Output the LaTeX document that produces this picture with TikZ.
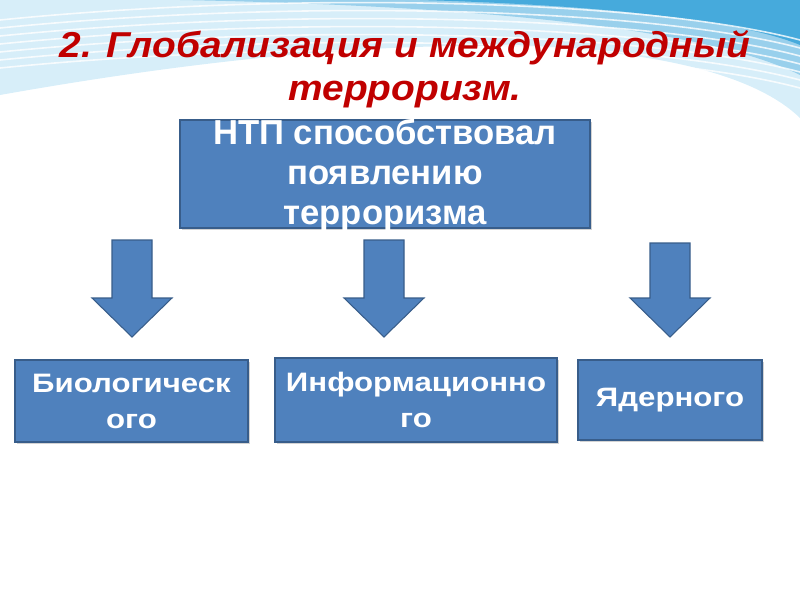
\documentclass[tikz,border=0pt]{standalone}
\usepackage{fontspec}
\setmainfont{Liberation Sans}
\newfontfamily\titlefont[FakeStretch=1.08]{Liberation Sans}
\newfontfamily\widefont[FakeStretch=1.17]{Liberation Sans}
\usetikzlibrary{shadows}
\definecolor{boxblue}{RGB}{79,129,189}
\definecolor{boxline}{RGB}{56,93,138}
\definecolor{titlered}{RGB}{192,0,0}
\definecolor{skyblue}{RGB}{70,170,220}
\definecolor{paleblue}{RGB}{215,238,249}

\tikzset{
  bluebox/.style={draw=boxline, fill=boxblue, line width=0.8pt,
    drop shadow={shadow xshift=1.2pt, shadow yshift=-1.2pt, opacity=0.35}},
  boxtext/.style={text=white, align=center, font=\widefont\bfseries\fontsize{20}{27}\selectfont},
  bigtext/.style={text=white, align=center, font=\bfseries\fontsize{26}{30}\selectfont},
  blockarrow/.style={draw=boxline, fill=boxblue, line width=0.8pt, line join=miter}
}

\begin{document}
\begin{tikzpicture}[x=0.75pt,y=-0.75pt]
\useasboundingbox (0,0) rectangle (800,600);

% background swoosh
\fill[paleblue] (0,0) -- (800,0) -- (800,118) .. controls (720,40) and (450,15) .. (0,95) -- cycle;
\fill[skyblue!55] (180,0) .. controls (450,5) and (700,25) .. (800,75) -- (800,0) -- cycle;
\fill[skyblue] (420,0) .. controls (600,5) and (740,20) .. (800,45) -- (800,0) -- cycle;
\foreach \d in {0,8,...,48}
  \draw[white, line width=1.2pt, opacity=0.8] (0,20+\d) .. controls (300,-10+\d) and (650,0+\d) .. (800,40+\d);

% title
\node[text=titlered, align=center, font=\titlefont\bfseries\itshape\fontsize{27}{32}\selectfont]
  (title) at (405,69) {2. Глобализация и международный\\терроризм.};

% top box
\node[bluebox, minimum width=307.5pt, minimum height=81pt] (ntpbox) at (385,174) {};
\node[bigtext] (ntptext) at (385,175) {НТП способствовал\\появлению\\терроризма};

% block arrows
\foreach \cx/\ty in {132/240, 384/240, 670/243}
  \draw[blockarrow] (\cx-20,\ty) -- (\cx+20,\ty) -- (\cx+20,298) -- (\cx+40,298)
    -- (\cx,337) -- (\cx-40,298) -- (\cx-20,298) -- cycle;

% bottom boxes
\node[bluebox, boxtext, minimum width=174.75pt, minimum height=61.5pt] (bio) at (131.5,401) {Биологическ\\ого};
\node[bluebox, boxtext, minimum width=211.5pt, minimum height=63pt] (info) at (416,400) {Информационно\\го};
\node[bluebox, boxtext, minimum width=138pt, minimum height=60pt] (yad) at (670,400) {Ядерного};

\end{tikzpicture}
\end{document}
